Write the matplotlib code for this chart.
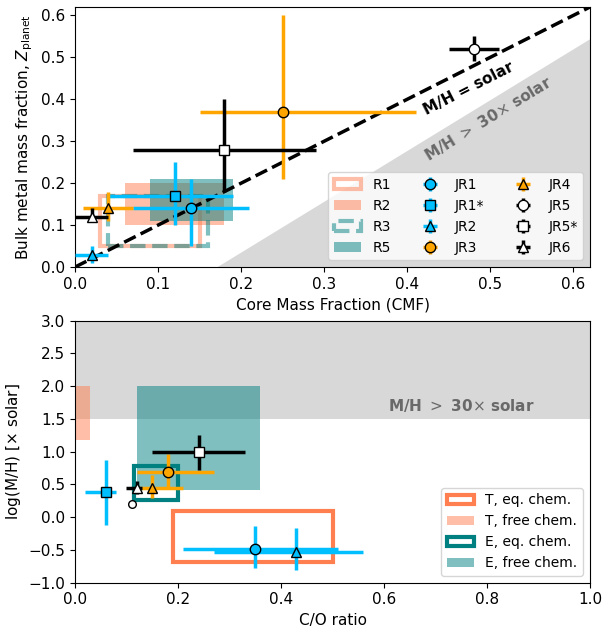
import matplotlib
matplotlib.use("Agg")
import matplotlib.pyplot as plt
from matplotlib.patches import Rectangle

# planets / retrieval labels
names = ["JR1", "JR1*", "JR2", "JR3", "JR4", "JR5", "JR5*", "JR6"]
markers = ["o", "s", "^", "o", "^", "o", "s", "^"]
face = ["deepskyblue", "deepskyblue", "deepskyblue", "orange", "orange", "white", "white", "white"]
ecol = ["deepskyblue", "deepskyblue", "deepskyblue", "orange", "orange", "black", "black", "black"]

# top panel: CMF vs bulk metallicity
cmf = [0.14, 0.12, 0.02, 0.25, 0.04, 0.48, 0.18, 0.02]
cmf_lo = [0.07, 0.04, 0.00, 0.15, 0.01, 0.45, 0.07, 0.00]
cmf_hi = [0.21, 0.19, 0.04, 0.41, 0.07, 0.51, 0.29, 0.04]
zp = [0.14, 0.17, 0.03, 0.37, 0.14, 0.52, 0.28, 0.12]
zp_lo = [0.05, 0.10, 0.01, 0.21, 0.11, 0.49, 0.18, 0.11]
zp_hi = [0.21, 0.25, 0.05, 0.60, 0.18, 0.55, 0.40, 0.14]

# interior model regions (x0, x1, y0, y1)
r_labels = ["R1", "R2", "R3", "R5"]
r_boxes = [(0.03, 0.15, 0.05, 0.17), (0.06, 0.18, 0.10, 0.20),
           (0.04, 0.16, 0.05, 0.17), (0.09, 0.19, 0.11, 0.21)]

# bottom panel: C/O vs log(M/H)
co = [0.35, 0.06, 0.43, 0.18, 0.15, 0.11, 0.24, 0.12]
co_lo = [0.21, 0.02, 0.27, 0.12, 0.12, 0.11, 0.15, 0.10]
co_hi = [0.51, 0.08, 0.56, 0.27, 0.21, 0.11, 0.33, 0.13]
mh = [-0.48, 0.38, -0.53, 0.69, 0.45, 0.20, 1.00, 0.44]
mh_lo = [-0.77, -0.12, -0.80, 0.44, 0.30, 0.20, 0.72, 0.35]
mh_hi = [-0.13, 0.87, -0.17, 0.97, 0.65, 0.20, 1.25, 0.55]

# atmospheric retrieval regions (x0, x1, y0, y1)
a_labels = ["T, eq. chem.", "T, free chem.", "E, eq. chem.", "E, free chem."]
a_boxes = [(0.19, 0.50, -0.68, 0.09), (0.0, 0.03, 1.18, 2.0),
           (0.115, 0.20, 0.26, 0.78), (0.12, 0.36, 0.42, 2.0)]

plt.rcParams["font.size"] = 11

fig = plt.figure(figsize=(6.04, 6.3), dpi=100)
ax1 = fig.add_axes([0.124, 0.576, 0.853, 0.413])
ax2 = fig.add_axes([0.124, 0.075, 0.853, 0.416])


def box(ax, b, **kw):
    x0, x1, y0, y1 = b
    ax.add_patch(Rectangle((x0, y0), x1 - x0, y1 - y0, **kw))


def points(ax, xs, xlo, xhi, ys, ylo, yhi, sizes, legend=True):
    for i, n in enumerate(names):
        ax.errorbar(xs[i], ys[i],
                    xerr=[[xs[i] - xlo[i]], [xhi[i] - xs[i]]],
                    yerr=[[ys[i] - ylo[i]], [yhi[i] - ys[i]]],
                    fmt=markers[i], mfc=face[i], mec="black", mew=1.0,
                    ms=sizes[i], ecolor=ecol[i], elinewidth=2.5, capsize=0,
                    zorder=5, label=n if legend else None)


# ---- top panel ----
ax1.fill_between([0.17, 0.62], [0.0, 0.0], [0.0, 0.545], color="gray", alpha=0.3, lw=0, zorder=0)
box(ax1, r_boxes[0], fill=False, ec="coral", alpha=0.5, lw=3, label=r_labels[0], zorder=1)
box(ax1, r_boxes[1], fc="coral", alpha=0.5, lw=0, label=r_labels[1], zorder=1)
box(ax1, r_boxes[2], fill=False, ec="teal", alpha=0.5, lw=3, ls="--", label=r_labels[2], zorder=1)
box(ax1, r_boxes[3], fc="teal", alpha=0.5, lw=0, label=r_labels[3], zorder=1)
ax1.plot([0, 0.62], [0, 0.62], "k--", lw=2.5, zorder=3)
points(ax1, cmf, cmf_lo, cmf_hi, zp, zp_lo, zp_hi, [7.5] * 8)

ax1.text(0.474, 0.426, "M/H = solar", rotation=27, ha="center", va="center",
         fontweight="bold", fontsize=11)
ax1.text(0.497, 0.355, r"M/H $>$ 30$\times$ solar", rotation=31.5, ha="center", va="center",
         fontweight="bold", fontsize=11, color="dimgray")

ax1.set_xlim(0, 0.62)
ax1.set_ylim(0, 0.62)
ax1.set_xlabel("Core Mass Fraction (CMF)")
ax1.set_ylabel(r"Bulk metal mass fraction, $Z_{\rm planet}$")
ax1.legend(ncol=3, loc="lower right", fontsize=10, handlelength=2.0, columnspacing=1.8)

# ---- bottom panel ----
ax2.axhspan(1.5, 3.0, color="gray", alpha=0.3, lw=0, zorder=0)
ax2.text(0.75, 1.7, r"M/H $>$ 30$\times$ solar", ha="center", va="center",
         fontweight="bold", fontsize=11, color="dimgray")
box(ax2, a_boxes[0], fill=False, ec="coral", lw=3, label=a_labels[0], zorder=1)
box(ax2, a_boxes[1], fc="coral", alpha=0.5, lw=0, label=a_labels[1], zorder=1)
box(ax2, a_boxes[2], fill=False, ec="teal", lw=3, label=a_labels[2], zorder=1)
box(ax2, a_boxes[3], fc="teal", alpha=0.5, lw=0, label=a_labels[3], zorder=1)
points(ax2, co, co_lo, co_hi, mh, mh_lo, mh_hi, [7.5] * 5 + [5.5, 7.5, 7.5], legend=False)

ax2.set_xlim(0, 1.0)
ax2.set_ylim(-1.0, 3.0)
ax2.set_xlabel("C/O ratio")
ax2.set_ylabel(r"log(M/H) [$\times$ solar]")
ax2.legend(loc="lower right", fontsize=10)

fig.savefig("out.png", dpi=100)
